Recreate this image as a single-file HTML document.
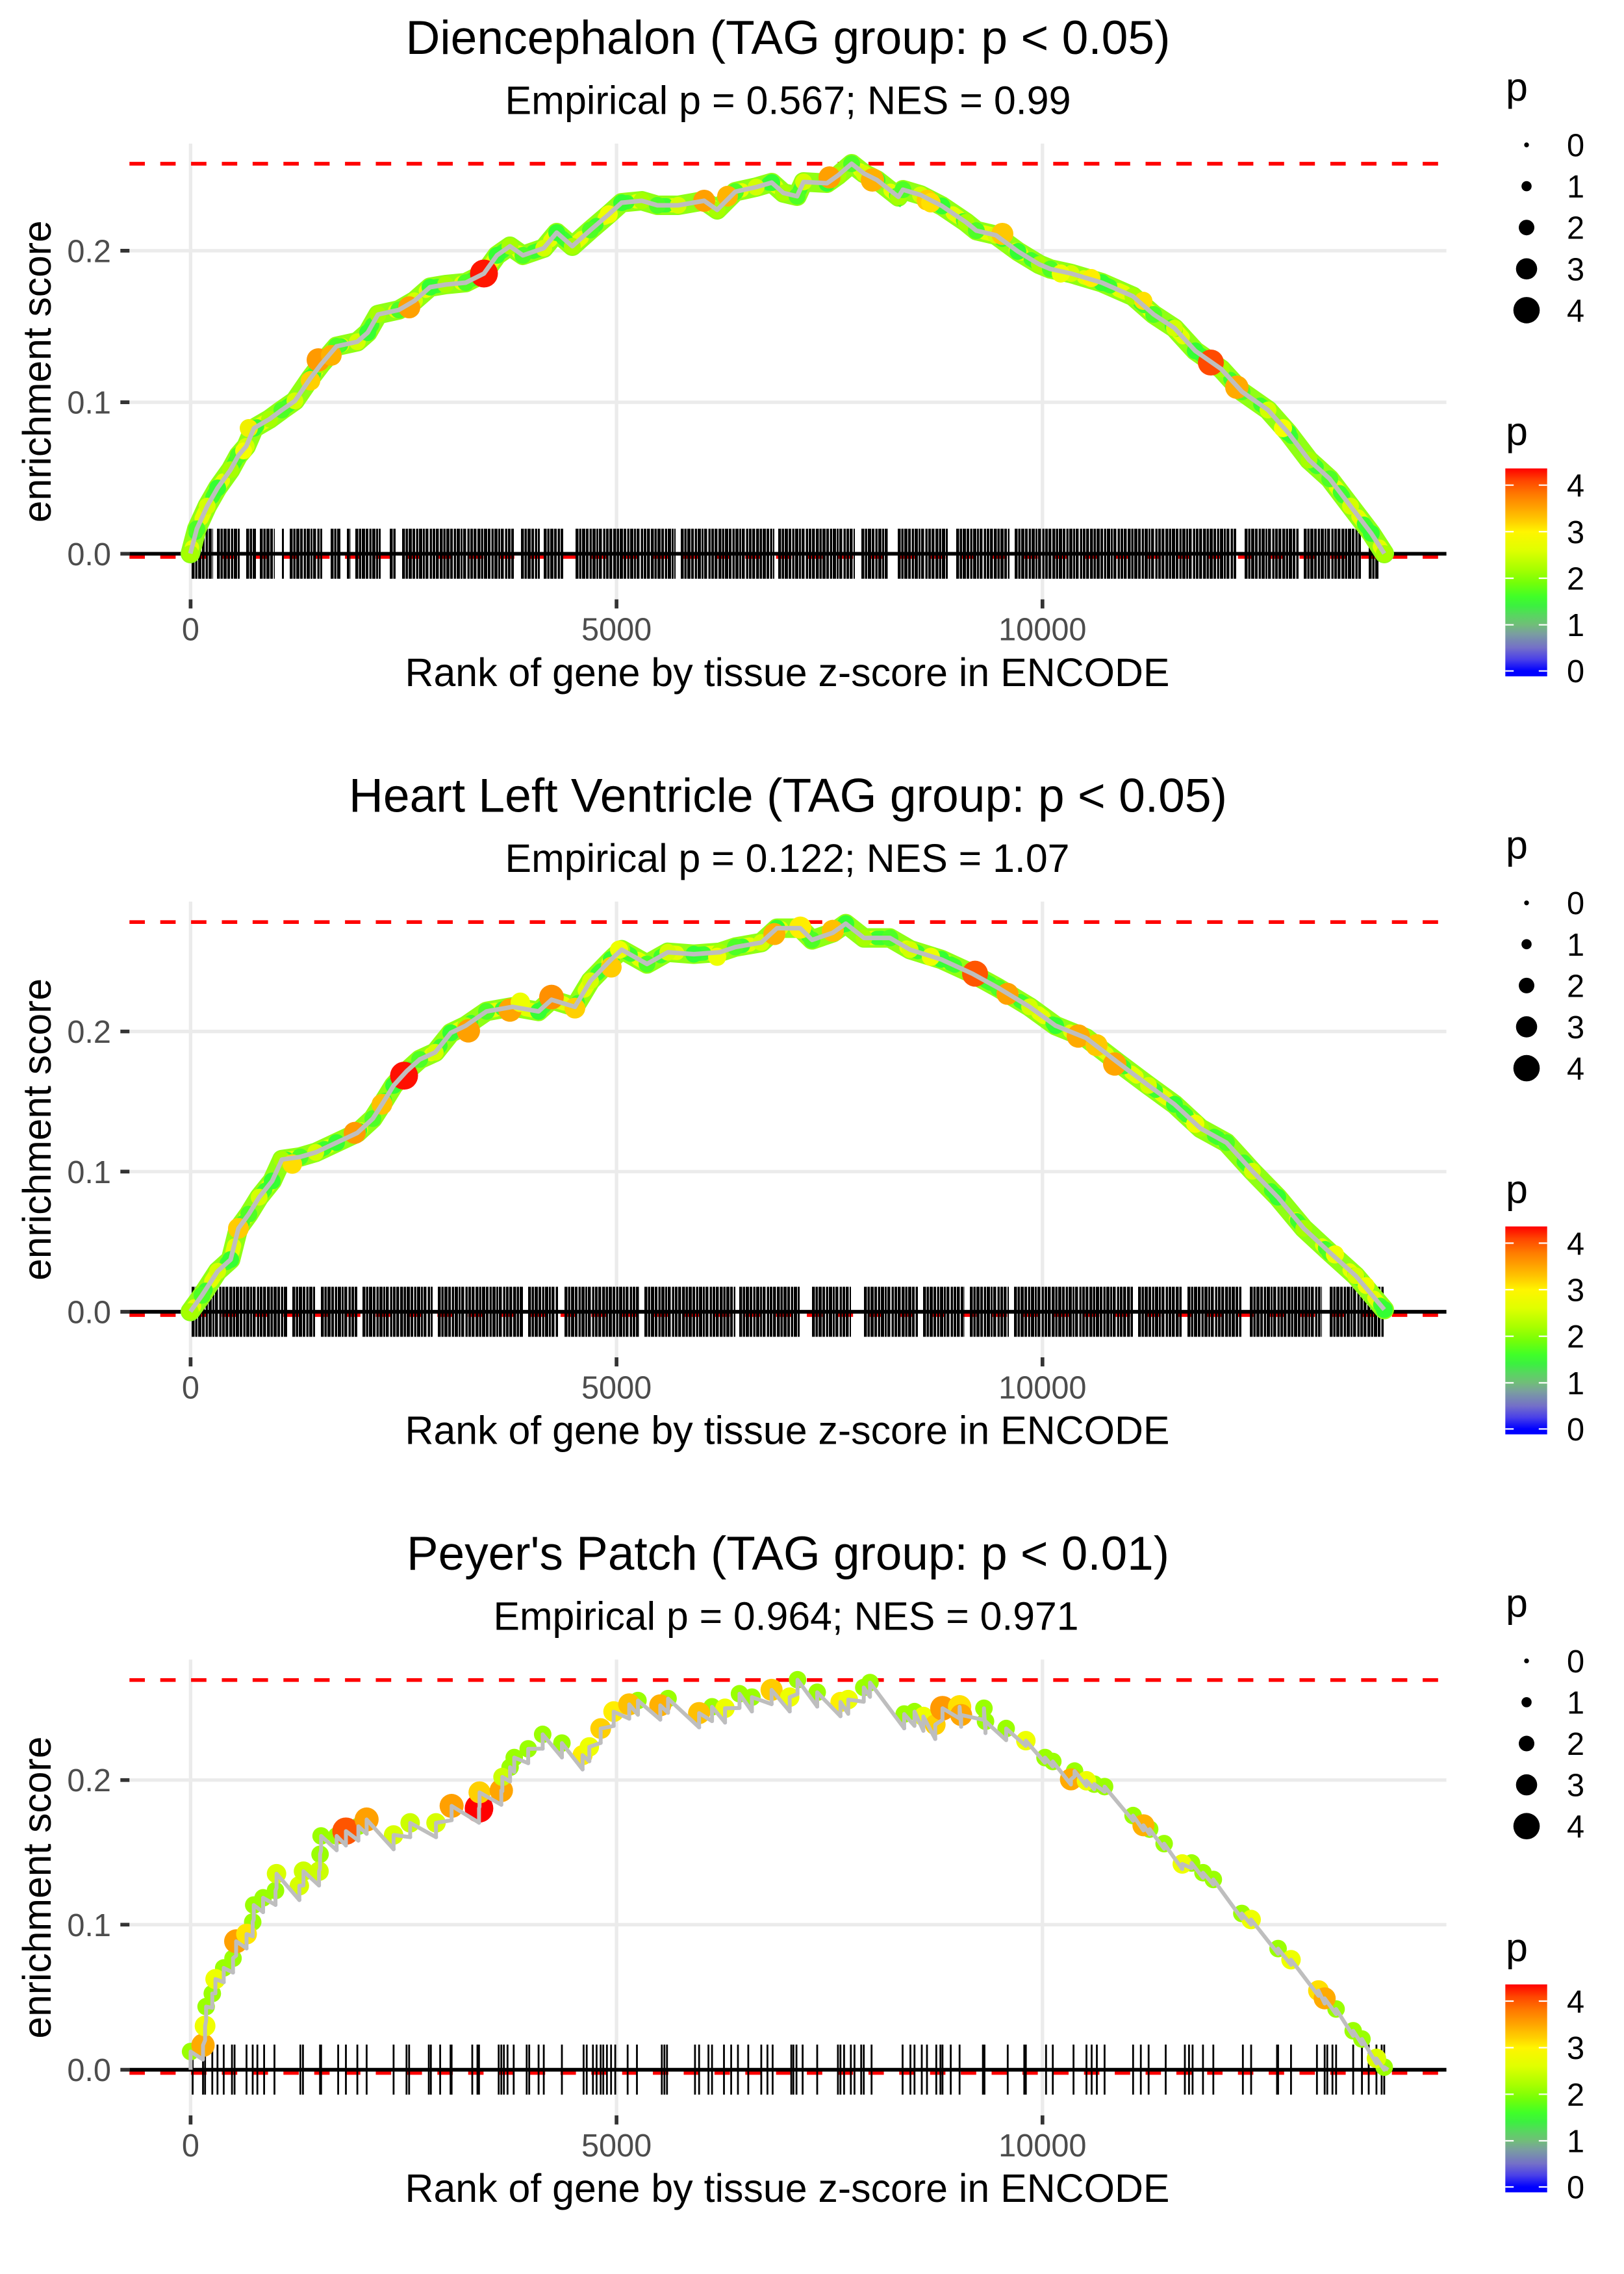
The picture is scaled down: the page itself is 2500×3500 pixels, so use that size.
<!DOCTYPE html>
<html><head><meta charset="utf-8"><style>html,body{margin:0;padding:0;background:#fff}svg{display:block}</style></head>
<body>
<svg xmlns="http://www.w3.org/2000/svg" width="2500" height="3500" viewBox="0 0 2500 3500" font-family="'Liberation Sans', Arial, Helvetica, sans-serif">
<defs>
<linearGradient id="cb" x1="0" y1="0" x2="0" y2="1">
<stop offset="0" stop-color="#FF0000"/>
<stop offset="0.058" stop-color="#FF4500"/>
<stop offset="0.125" stop-color="#FF7A00"/>
<stop offset="0.192" stop-color="#FFA500"/>
<stop offset="0.259" stop-color="#FFD200"/>
<stop offset="0.304" stop-color="#FFF500"/>
<stop offset="0.393" stop-color="#E0FF00"/>
<stop offset="0.483" stop-color="#A8FF00"/>
<stop offset="0.55" stop-color="#74FF08"/>
<stop offset="0.617" stop-color="#40FF28"/>
<stop offset="0.661" stop-color="#3CF040"/>
<stop offset="0.706" stop-color="#58D660"/>
<stop offset="0.751" stop-color="#70BE78"/>
<stop offset="0.795" stop-color="#7A9EA0"/>
<stop offset="0.862" stop-color="#7470C8"/>
<stop offset="0.918" stop-color="#4A40E8"/>
<stop offset="0.974" stop-color="#0000FF"/>
<stop offset="1" stop-color="#0000FF"/>
</linearGradient>
</defs>
<rect x="0" y="0" width="2500" height="3500" fill="#fff"/>

<!-- ================= PANEL 1 ================= -->
<g>
<path d="M293.4 221V922.5M949.1 221V922.5M1604.8 221V922.5M199.3 852.3H2226.6M199.3 619.1H2226.6M199.3 385.9H2226.6" stroke="#EBEBEB" stroke-width="5.3" fill="none"/>
<path d="M199.3 252H2226.6M199.3 857.2H2226.6" stroke="#FF0000" stroke-width="5.7" stroke-dasharray="23.7 23.7" fill="none"/>
<path d="M295 852.3H328M334 852.3H370M379 852.3H394M400 852.3H423M434 852.3H437M446 852.3H496M509 852.3H525M534 852.3H540M547 852.3H586M600 852.3H609M619 852.3H791M802 852.3H831M837 852.3H867M886 852.3H1040M1048 852.3H1192M1198 852.3H1316M1326 852.3H1368M1382 852.3H1459M1472 852.3H1554M1562 852.3H1904M1916 852.3H1999M2007 852.3H2095M2107 852.3H2123" stroke="#000" stroke-width="77" stroke-dasharray="4.5 1 3.5 1 5 1 4 1.5 3.5 1 5 1 3 1 4.5 2 3.5 1 4 1 4.5 1.5" fill="none"/>
<path d="M199.3 852.3H2226.6" stroke="#000" stroke-width="5.7"/>
<polyline points="293,852 303,814 319,779 335,751 355,723 367,701 379,687 391,659 415,645 434,631 454,617 478,582 494,561 518,533 550,526 566,512 582,484 614,477 638,463 662,442 686,438 717,435 745,421 765,393 785,379 805,393 837,382 857,358 881,379 909,354 937,330 957,312 988,309 1012,316 1044,316 1084,309 1104,323 1132,295 1164,288 1188,281 1206,297 1227,302 1237,280 1273,282 1290,270 1311,252 1330,267 1350,277 1383,303 1390,292 1417,300 1450,317 1487,342 1503,355 1533,362 1567,387 1600,407 1617,414 1649,421 1696,435 1744,456 1776,484 1808,505 1840,540 1880,568 1912,603 1952,631 1983,666 2015,708 2047,737 2079,779 2111,821 2131,852" fill="none" stroke="#8FFF14" stroke-width="30" stroke-linejoin="round" stroke-linecap="round"/>
<polyline points="293,852 303,814 319,779 335,751 355,723 367,701 379,687 391,659 415,645 434,631 454,617 478,582 494,561 518,533 550,526 566,512 582,484 614,477 638,463 662,442 686,438 717,435 745,421 765,393 785,379 805,393 837,382 857,358 881,379 909,354 937,330 957,312 988,309 1012,316 1044,316 1084,309 1104,323 1132,295 1164,288 1188,281 1206,297 1227,302 1237,280 1273,282 1290,270 1311,252 1330,267 1350,277 1383,303 1390,292 1417,300 1450,317 1487,342 1503,355 1533,362 1567,387 1600,407 1617,414 1649,421 1696,435 1744,456 1776,484 1808,505 1840,540 1880,568 1912,603 1952,631 1983,666 2015,708 2047,737 2079,779 2111,821 2131,852" fill="none" stroke="#E4FF00" stroke-width="22" stroke-linecap="round" stroke-dasharray="10 47"/>
<polyline points="293,852 303,814 319,779 335,751 355,723 367,701 379,687 391,659 415,645 434,631 454,617 478,582 494,561 518,533 550,526 566,512 582,484 614,477 638,463 662,442 686,438 717,435 745,421 765,393 785,379 805,393 837,382 857,358 881,379 909,354 937,330 957,312 988,309 1012,316 1044,316 1084,309 1104,323 1132,295 1164,288 1188,281 1206,297 1227,302 1237,280 1273,282 1290,270 1311,252 1330,267 1350,277 1383,303 1390,292 1417,300 1450,317 1487,342 1503,355 1533,362 1567,387 1600,407 1617,414 1649,421 1696,435 1744,456 1776,484 1808,505 1840,540 1880,568 1912,603 1952,631 1983,666 2015,708 2047,737 2079,779 2111,821 2131,852" fill="none" stroke="#3DFF2E" stroke-width="22" stroke-linecap="round" stroke-dasharray="8 53" stroke-dashoffset="28"/>
<g fill="#A6FF00"><circle cx="293" cy="852" r="13"/><circle cx="355" cy="723" r="13"/><circle cx="415" cy="645" r="13"/><circle cx="494" cy="561" r="13"/><circle cx="582" cy="484" r="13"/><circle cx="686" cy="438" r="13"/><circle cx="785" cy="379" r="13"/><circle cx="881" cy="379" r="13"/><circle cx="988" cy="309" r="13"/><circle cx="1104" cy="323" r="13"/><circle cx="1206" cy="297" r="13"/><circle cx="1290" cy="270" r="13"/><circle cx="1383" cy="303" r="13"/><circle cx="1487" cy="342" r="13"/><circle cx="1600" cy="407" r="13"/><circle cx="1744" cy="456" r="13"/><circle cx="1880" cy="568" r="13"/><circle cx="2015" cy="708" r="13"/><circle cx="2131" cy="852" r="13"/></g>
<g fill="#4DFF26"><circle cx="303" cy="814" r="13"/><circle cx="367" cy="701" r="13"/><circle cx="434" cy="631" r="13"/><circle cx="518" cy="533" r="13"/><circle cx="614" cy="477" r="13"/><circle cx="717" cy="435" r="13"/><circle cx="805" cy="393" r="13"/><circle cx="909" cy="354" r="13"/><circle cx="1012" cy="316" r="13"/><circle cx="1132" cy="295" r="13"/><circle cx="1227" cy="302" r="13"/><circle cx="1311" cy="252" r="13"/><circle cx="1390" cy="292" r="13"/><circle cx="1503" cy="355" r="13"/><circle cx="1617" cy="414" r="13"/><circle cx="1776" cy="484" r="13"/><circle cx="1912" cy="603" r="13"/><circle cx="2047" cy="737" r="13"/></g>
<g fill="#D4FF00"><circle cx="319" cy="779" r="13"/><circle cx="379" cy="687" r="13"/><circle cx="454" cy="617" r="13"/><circle cx="550" cy="526" r="13"/><circle cx="638" cy="463" r="13"/><circle cx="837" cy="382" r="13"/><circle cx="937" cy="330" r="13"/><circle cx="1044" cy="316" r="13"/><circle cx="1164" cy="288" r="13"/><circle cx="1237" cy="280" r="13"/><circle cx="1330" cy="267" r="13"/><circle cx="1417" cy="300" r="13"/><circle cx="1533" cy="362" r="13"/><circle cx="1649" cy="421" r="13"/><circle cx="1808" cy="505" r="13"/><circle cx="1952" cy="631" r="13"/><circle cx="2079" cy="779" r="13"/></g>
<g fill="#33FF33"><circle cx="335" cy="751" r="13"/><circle cx="391" cy="659" r="13"/><circle cx="478" cy="582" r="13"/><circle cx="566" cy="512" r="13"/><circle cx="662" cy="442" r="13"/><circle cx="765" cy="393" r="13"/><circle cx="857" cy="358" r="13"/><circle cx="957" cy="312" r="13"/><circle cx="1188" cy="281" r="13"/><circle cx="1273" cy="282" r="13"/><circle cx="1350" cy="277" r="13"/><circle cx="1450" cy="317" r="13"/><circle cx="1567" cy="387" r="13"/><circle cx="1696" cy="435" r="13"/><circle cx="1840" cy="540" r="13"/><circle cx="1983" cy="666" r="13"/><circle cx="2111" cy="821" r="13"/></g>
<circle cx="490" cy="554" r="18" fill="#FF9A00"/><circle cx="510" cy="547" r="16" fill="#FFB000"/><circle cx="478" cy="586" r="15" fill="#FFD000"/><circle cx="383" cy="659" r="14" fill="#F0F000"/><circle cx="375" cy="694" r="13" fill="#F5FF00"/><circle cx="630" cy="473" r="17" fill="#FFA000"/><circle cx="745" cy="421" r="21.5" fill="#FF1500"/><circle cx="937" cy="330" r="14" fill="#EEFF00"/><circle cx="1084" cy="309" r="17" fill="#FFA000"/><circle cx="1120" cy="302" r="16" fill="#FFB400"/><circle cx="1277" cy="273" r="17" fill="#FFA000"/><circle cx="1343" cy="277" r="18" fill="#FFB000"/><circle cx="1427" cy="308" r="16" fill="#FFCC00"/><circle cx="1433" cy="312" r="15" fill="#FFE000"/><circle cx="1543" cy="360" r="17" fill="#FFC800"/><circle cx="1633" cy="421" r="14" fill="#EEFF00"/><circle cx="1680" cy="428" r="14" fill="#FFEE00"/><circle cx="1760" cy="463" r="14" fill="#FFE000"/><circle cx="1864" cy="558" r="20" fill="#FF4A00"/><circle cx="1904" cy="596" r="18" fill="#FFAA00"/><circle cx="1975" cy="659" r="14" fill="#F5FF00"/>
<polyline points="293,852 303,814 319,779 335,751 355,723 367,701 379,687 391,659 415,645 434,631 454,617 478,582 494,561 518,533 550,526 566,512 582,484 614,477 638,463 662,442 686,438 717,435 745,421 765,393 785,379 805,393 837,382 857,358 881,379 909,354 937,330 957,312 988,309 1012,316 1044,316 1084,309 1104,323 1132,295 1164,288 1188,281 1206,297 1227,302 1237,280 1273,282 1290,270 1311,252 1330,267 1350,277 1383,303 1390,292 1417,300 1450,317 1487,342 1503,355 1533,362 1567,387 1600,407 1617,414 1649,421 1696,435 1744,456 1776,484 1808,505 1840,540 1880,568 1912,603 1952,631 1983,666 2015,708 2047,737 2079,779 2111,821 2131,852" fill="none" stroke="#BEBEBE" stroke-width="7" stroke-linejoin="round"/>
<path d="M185.3 852.3H199.3M185.3 619.1H199.3M185.3 385.9H199.3M293.4 922.5V936.5M949.1 922.5V936.5M1604.8 922.5V936.5" stroke="#333" stroke-width="5.7"/>
<g font-size="48.7" fill="#4D4D4D"><text x="171" y="869.8" text-anchor="end">0.0</text><text x="171" y="636.6" text-anchor="end">0.1</text><text x="171" y="403.4" text-anchor="end">0.2</text><text x="293.4" y="985.6" text-anchor="middle">0</text><text x="949.1" y="985.6" text-anchor="middle">5000</text><text x="1604.8" y="985.6" text-anchor="middle">10000</text></g>
<text x="1213" y="82.8" font-size="73" text-anchor="middle" textLength="1177" lengthAdjust="spacingAndGlyphs">Diencephalon (TAG group: p &lt; 0.05)</text>
<text x="1213" y="175.4" font-size="61" text-anchor="middle" textLength="871" lengthAdjust="spacingAndGlyphs">Empirical p = 0.567; NES = 0.99</text>
<text x="1212" y="1055.8" font-size="61" text-anchor="middle" textLength="1177" lengthAdjust="spacingAndGlyphs">Rank of gene by tissue z-score in ENCODE</text>
<text transform="translate(78,571.75) rotate(-90)" font-size="61" text-anchor="middle" textLength="465" lengthAdjust="spacingAndGlyphs">enrichment score</text>
<text x="2318" y="155" font-size="61">p</text>
<circle cx="2350" cy="223" r="3.7"/><circle cx="2350" cy="286.6" r="7.8"/><circle cx="2350" cy="350.2" r="12"/><circle cx="2350" cy="413.8" r="16.3"/><circle cx="2350" cy="477.4" r="20.3"/>
<g font-size="48.7"><text x="2412" y="240.5">0</text><text x="2412" y="304.1">1</text><text x="2412" y="367.7">2</text><text x="2412" y="431.3">3</text><text x="2412" y="494.9">4</text></g>
<text x="2318" y="685" font-size="61">p</text>
<rect x="2317.3" y="721" width="64.4" height="320" fill="url(#cb)"/>
<path d="M2317.3 746.7h12.9M2368.8 746.7h12.9M2317.3 818.3h12.9M2368.8 818.3h12.9M2317.3 890h12.9M2368.8 890h12.9M2317.3 961.7h12.9M2368.8 961.7h12.9M2317.3 1032.7h12.9M2368.8 1032.7h12.9" stroke="#fff" stroke-width="2.2"/>
<g font-size="48.7"><text x="2412" y="764.2">4</text><text x="2412" y="835.8">3</text><text x="2412" y="907.5">2</text><text x="2412" y="979.2">1</text><text x="2412" y="1050.2">0</text></g>
</g>

<!-- ================= PANEL 2 ================= -->
<g transform="translate(0,1166.67)">
<path d="M293.4 221V922.5M949.1 221V922.5M1604.8 221V922.5M199.3 852.3H2226.6M199.3 636.6H2226.6M199.3 420.9H2226.6" stroke="#EBEBEB" stroke-width="5.3" fill="none"/>
<path d="M199.3 252.5H2226.6M199.3 857.4H2226.6" stroke="#FF0000" stroke-width="5.7" stroke-dasharray="23.7 23.7" fill="none"/>
<path d="M295 852.3H442M450 852.3H486M494 852.3H550M558 852.3H666M674 852.3H805M813 852.3H859M869 852.3H984M992 852.3H1132M1138 852.3H1232M1250 852.3H1310M1330 852.3H1413M1421 852.3H1485M1493 852.3H1553M1561 852.3H1744M1752 852.3H1820M1828 852.3H1912M1924 852.3H2035M2047 852.3H2131" stroke="#000" stroke-width="77" stroke-dasharray="4.5 1 3.5 1 5 1 4 1.5 3.5 1 5 1 3 1 4.5 2 3.5 1 4 1 4.5 1.5" fill="none"/>
<path d="M199.3 852.3H2226.6" stroke="#000" stroke-width="5.7"/>
<polyline points="293,852 311,827 335,790 355,772 367,724 383,702 399,676 419,651 434,618 462,614 486,607 518,592 550,577 574,555 590,530 606,504 626,482 646,464 670,453 694,423 717,412 749,390 789,383 829,390 849,372 885,383 909,343 941,310 957,295 996,317 1028,299 1068,302 1108,299 1132,291 1172,284 1196,262 1232,262 1250,280 1282,269 1302,255 1330,277 1370,277 1401,295 1449,310 1497,332 1537,354 1585,383 1625,412 1672,431 1720,468 1768,504 1808,533 1848,570 1888,592 1928,636 1967,676 2007,724 2047,761 2087,797 2131,849" fill="none" stroke="#8FFF14" stroke-width="30" stroke-linejoin="round" stroke-linecap="round"/>
<polyline points="293,852 311,827 335,790 355,772 367,724 383,702 399,676 419,651 434,618 462,614 486,607 518,592 550,577 574,555 590,530 606,504 626,482 646,464 670,453 694,423 717,412 749,390 789,383 829,390 849,372 885,383 909,343 941,310 957,295 996,317 1028,299 1068,302 1108,299 1132,291 1172,284 1196,262 1232,262 1250,280 1282,269 1302,255 1330,277 1370,277 1401,295 1449,310 1497,332 1537,354 1585,383 1625,412 1672,431 1720,468 1768,504 1808,533 1848,570 1888,592 1928,636 1967,676 2007,724 2047,761 2087,797 2131,849" fill="none" stroke="#E4FF00" stroke-width="22" stroke-linecap="round" stroke-dasharray="10 47"/>
<polyline points="293,852 311,827 335,790 355,772 367,724 383,702 399,676 419,651 434,618 462,614 486,607 518,592 550,577 574,555 590,530 606,504 626,482 646,464 670,453 694,423 717,412 749,390 789,383 829,390 849,372 885,383 909,343 941,310 957,295 996,317 1028,299 1068,302 1108,299 1132,291 1172,284 1196,262 1232,262 1250,280 1282,269 1302,255 1330,277 1370,277 1401,295 1449,310 1497,332 1537,354 1585,383 1625,412 1672,431 1720,468 1768,504 1808,533 1848,570 1888,592 1928,636 1967,676 2007,724 2047,761 2087,797 2131,849" fill="none" stroke="#3DFF2E" stroke-width="22" stroke-linecap="round" stroke-dasharray="8 53" stroke-dashoffset="28"/>
<g fill="#A6FF00"><circle cx="293" cy="852" r="13"/><circle cx="367" cy="724" r="13"/><circle cx="434" cy="618" r="13"/><circle cx="550" cy="577" r="13"/><circle cx="626" cy="482" r="13"/><circle cx="717" cy="412" r="13"/><circle cx="849" cy="372" r="13"/><circle cx="957" cy="295" r="13"/><circle cx="1108" cy="299" r="13"/><circle cx="1232" cy="262" r="13"/><circle cx="1330" cy="277" r="13"/><circle cx="1497" cy="332" r="13"/><circle cx="1672" cy="431" r="13"/><circle cx="1848" cy="570" r="13"/><circle cx="2007" cy="724" r="13"/></g>
<g fill="#4DFF26"><circle cx="311" cy="827" r="13"/><circle cx="383" cy="702" r="13"/><circle cx="462" cy="614" r="13"/><circle cx="574" cy="555" r="13"/><circle cx="646" cy="464" r="13"/><circle cx="749" cy="390" r="13"/><circle cx="885" cy="383" r="13"/><circle cx="996" cy="317" r="13"/><circle cx="1132" cy="291" r="13"/><circle cx="1250" cy="280" r="13"/><circle cx="1370" cy="277" r="13"/><circle cx="1537" cy="354" r="13"/><circle cx="1720" cy="468" r="13"/><circle cx="1888" cy="592" r="13"/><circle cx="2047" cy="761" r="13"/></g>
<g fill="#D4FF00"><circle cx="335" cy="790" r="13"/><circle cx="399" cy="676" r="13"/><circle cx="486" cy="607" r="13"/><circle cx="590" cy="530" r="13"/><circle cx="670" cy="453" r="13"/><circle cx="789" cy="383" r="13"/><circle cx="909" cy="343" r="13"/><circle cx="1028" cy="299" r="13"/><circle cx="1172" cy="284" r="13"/><circle cx="1282" cy="269" r="13"/><circle cx="1401" cy="295" r="13"/><circle cx="1585" cy="383" r="13"/><circle cx="1768" cy="504" r="13"/><circle cx="1928" cy="636" r="13"/><circle cx="2087" cy="797" r="13"/></g>
<g fill="#33FF33"><circle cx="355" cy="772" r="13"/><circle cx="419" cy="651" r="13"/><circle cx="518" cy="592" r="13"/><circle cx="606" cy="504" r="13"/><circle cx="694" cy="423" r="13"/><circle cx="829" cy="390" r="13"/><circle cx="941" cy="310" r="13"/><circle cx="1068" cy="302" r="13"/><circle cx="1196" cy="262" r="13"/><circle cx="1302" cy="255" r="13"/><circle cx="1449" cy="310" r="13"/><circle cx="1625" cy="412" r="13"/><circle cx="1808" cy="533" r="13"/><circle cx="1967" cy="676" r="13"/><circle cx="2131" cy="849" r="13"/></g>
<circle cx="367" cy="724" r="16" fill="#FFCC00"/><circle cx="450" cy="625" r="15" fill="#FFDD00"/><circle cx="546" cy="577" r="17" fill="#FF9900"/><circle cx="588" cy="533" r="16" fill="#FFC000"/><circle cx="622" cy="489" r="21.5" fill="#FF1000"/><circle cx="721" cy="420" r="18" fill="#FFA000"/><circle cx="785" cy="388" r="18" fill="#FFA500"/><circle cx="801" cy="376" r="15" fill="#EEFF00"/><circle cx="849" cy="368" r="19" fill="#FF9000"/><circle cx="885" cy="385" r="16" fill="#FFD000"/><circle cx="941" cy="322" r="16" fill="#FFCC00"/><circle cx="953" cy="295" r="14" fill="#EEFF00"/><circle cx="1104" cy="306" r="14" fill="#EEFF00"/><circle cx="1192" cy="271" r="17" fill="#FFB000"/><circle cx="1232" cy="261" r="17" fill="#FFEE00"/><circle cx="1282" cy="266" r="17" fill="#FFC000"/><circle cx="1433" cy="306" r="14" fill="#EEFF00"/><circle cx="1501" cy="332" r="20" fill="#FF5500"/><circle cx="1551" cy="363" r="17" fill="#FFA000"/><circle cx="1660" cy="428" r="18" fill="#FFAA00"/><circle cx="1688" cy="442" r="17" fill="#FFC800"/><circle cx="1716" cy="471" r="18" fill="#FFA500"/><circle cx="1840" cy="563" r="14" fill="#EEFF00"/><circle cx="2055" cy="764" r="14" fill="#EEFF00"/><circle cx="2103" cy="812" r="13" fill="#EEFF00"/>
<polyline points="293,852 311,827 335,790 355,772 367,724 383,702 399,676 419,651 434,618 462,614 486,607 518,592 550,577 574,555 590,530 606,504 626,482 646,464 670,453 694,423 717,412 749,390 789,383 829,390 849,372 885,383 909,343 941,310 957,295 996,317 1028,299 1068,302 1108,299 1132,291 1172,284 1196,262 1232,262 1250,280 1282,269 1302,255 1330,277 1370,277 1401,295 1449,310 1497,332 1537,354 1585,383 1625,412 1672,431 1720,468 1768,504 1808,533 1848,570 1888,592 1928,636 1967,676 2007,724 2047,761 2087,797 2131,849" fill="none" stroke="#BEBEBE" stroke-width="7" stroke-linejoin="round"/>
<path d="M185.3 852.3H199.3M185.3 636.6H199.3M185.3 420.9H199.3M293.4 922.5V936.5M949.1 922.5V936.5M1604.8 922.5V936.5" stroke="#333" stroke-width="5.7"/>
<g font-size="48.7" fill="#4D4D4D"><text x="171" y="869.8" text-anchor="end">0.0</text><text x="171" y="654.1" text-anchor="end">0.1</text><text x="171" y="438.4" text-anchor="end">0.2</text><text x="293.4" y="985.6" text-anchor="middle">0</text><text x="949.1" y="985.6" text-anchor="middle">5000</text><text x="1604.8" y="985.6" text-anchor="middle">10000</text></g>
<text x="1213" y="82.8" font-size="73" text-anchor="middle" textLength="1352" lengthAdjust="spacingAndGlyphs">Heart Left Ventricle (TAG group: p &lt; 0.05)</text>
<text x="1212" y="175.4" font-size="61" text-anchor="middle" textLength="869" lengthAdjust="spacingAndGlyphs">Empirical p = 0.122; NES = 1.07</text>
<text x="1212" y="1055.8" font-size="61" text-anchor="middle" textLength="1177" lengthAdjust="spacingAndGlyphs">Rank of gene by tissue z-score in ENCODE</text>
<text transform="translate(78,571.75) rotate(-90)" font-size="61" text-anchor="middle" textLength="465" lengthAdjust="spacingAndGlyphs">enrichment score</text>
<text x="2318" y="155" font-size="61">p</text>
<circle cx="2350" cy="223" r="3.7"/><circle cx="2350" cy="286.6" r="7.8"/><circle cx="2350" cy="350.2" r="12"/><circle cx="2350" cy="413.8" r="16.3"/><circle cx="2350" cy="477.4" r="20.3"/>
<g font-size="48.7"><text x="2412" y="240.5">0</text><text x="2412" y="304.1">1</text><text x="2412" y="367.7">2</text><text x="2412" y="431.3">3</text><text x="2412" y="494.9">4</text></g>
<text x="2318" y="685" font-size="61">p</text>
<rect x="2317.3" y="721" width="64.4" height="320" fill="url(#cb)"/>
<path d="M2317.3 746.7h12.9M2368.8 746.7h12.9M2317.3 818.3h12.9M2368.8 818.3h12.9M2317.3 890h12.9M2368.8 890h12.9M2317.3 961.7h12.9M2368.8 961.7h12.9M2317.3 1032.7h12.9M2368.8 1032.7h12.9" stroke="#fff" stroke-width="2.2"/>
<g font-size="48.7"><text x="2412" y="764.2">4</text><text x="2412" y="835.8">3</text><text x="2412" y="907.5">2</text><text x="2412" y="979.2">1</text><text x="2412" y="1050.2">0</text></g>
</g>

<!-- ================= PANEL 3 ================= -->
<g transform="translate(0,2333.33)">
<path d="M293.4 221V922.5M949.1 221V922.5M1604.8 221V922.5M199.3 852.3H2226.6M199.3 629H2226.6M199.3 406.4H2226.6" stroke="#EBEBEB" stroke-width="5.3" fill="none"/>
<path d="M199.3 252.5H2226.6M199.3 857.2H2226.6" stroke="#FF0000" stroke-width="5.7" stroke-dasharray="23.7 23.7" fill="none"/>
<path d="M296.6 813.5V890.5M312.5 813.5V890.5M315.7 813.5V890.5M326.8 813.5V890.5M334.8 813.5V890.5M344.4 813.5V890.5M357.1 813.5V890.5M361.1 813.5V890.5M379.5 813.5V890.5M389 813.5V890.5M396.2 813.5V890.5M406.6 813.5V890.5M422.5 813.5V890.5M462.4 813.5V890.5M466.4 813.5V890.5M492.7 813.5V890.5M494.3 813.5V890.5M520.6 813.5V890.5M532.5 813.5V890.5M550.1 813.5V890.5M564.4 813.5V890.5M605.9 813.5V890.5M625.8 813.5V890.5M629.8 813.5V890.5M660.1 813.5V890.5M663.3 813.5V890.5M677.6 813.5V890.5M693.6 813.5V890.5M695.2 813.5V890.5M727 813.5V890.5M735 813.5V890.5M737.4 813.5V890.5M767.7 813.5V890.5M771.7 813.5V890.5M775.7 813.5V890.5M781.3 813.5V890.5M790.8 813.5V890.5M810.8 813.5V890.5M814.7 813.5V890.5M829.1 813.5V890.5M837.1 813.5V890.5M865 813.5V890.5M898.4 813.5V890.5M903.2 813.5V890.5M912.8 813.5V890.5M918.4 813.5V890.5M924.7 813.5V890.5M928.7 813.5V890.5M934.3 813.5V890.5M940.7 813.5V890.5M947.1 813.5V890.5M966.2 813.5V890.5M980.5 813.5V890.5M1018.8 813.5V890.5M1022.8 813.5V890.5M1026.8 813.5V890.5M1069.9 813.5V890.5M1076.2 813.5V890.5M1090.6 813.5V890.5M1096.1 813.5V890.5M1114.5 813.5V890.5M1125.6 813.5V890.5M1136 813.5V890.5M1151.9 813.5V890.5M1171.9 813.5V890.5M1181.4 813.5V890.5M1189.4 813.5V890.5M1218.1 813.5V890.5M1221.3 813.5V890.5M1226.1 813.5V890.5M1235.6 813.5V890.5M1258 813.5V890.5M1289.9 813.5V890.5M1293.8 813.5V890.5M1299.4 813.5V890.5M1309.8 813.5V890.5M1315.4 813.5V890.5M1325.7 813.5V890.5M1329.7 813.5V890.5M1341.7 813.5V890.5M1389.5 813.5V890.5M1401.5 813.5V890.5M1407.8 813.5V890.5M1419 813.5V890.5M1427 813.5V890.5M1441.3 813.5V890.5M1447.7 813.5V890.5M1450.9 813.5V890.5M1463.6 813.5V890.5M1477.2 813.5V890.5M1513.1 813.5V890.5M1515.5 813.5V890.5M1551.3 813.5V890.5M1576.8 813.5V890.5M1579.2 813.5V890.5M1610.3 813.5V890.5M1620.7 813.5V890.5M1652.6 813.5V890.5M1672.5 813.5V890.5M1680.5 813.5V890.5M1688.5 813.5V890.5M1700.4 813.5V890.5M1744.3 813.5V890.5M1756.2 813.5V890.5M1768.2 813.5V890.5M1794.5 813.5V890.5M1824 813.5V890.5M1830.4 813.5V890.5M1835.9 813.5V890.5M1851.9 813.5V890.5M1867.8 813.5V890.5M1913.3 813.5V890.5M1926 813.5V890.5M1965.9 813.5V890.5M1967.5 813.5V890.5M1987.4 813.5V890.5M2027.3 813.5V890.5M2039.2 813.5V890.5M2043.2 813.5V890.5M2051.2 813.5V890.5M2056.8 813.5V890.5M2083.1 813.5V890.5M2096.6 813.5V890.5M2107 813.5V890.5M2118.9 813.5V890.5M2126.9 813.5V890.5M2130.9 813.5V890.5" stroke="#000" stroke-width="2.8" fill="none"/>
<path d="M199.3 852.3H2226.6" stroke="#000" stroke-width="5.7"/>
<g fill="#9AFF00">
<circle cx="293.4" cy="824.3" r="13.5"/><circle cx="317.3" cy="755.1" r="13.5"/><circle cx="326.8" cy="735" r="13.5"/><circle cx="344.4" cy="695.6" r="13.5"/><circle cx="358.7" cy="680.7" r="13.5"/><circle cx="389" cy="624.9" r="13.5"/><circle cx="390.6" cy="598.8" r="13.5"/><circle cx="405" cy="587.7" r="13.5"/><circle cx="424.1" cy="576.5" r="13.5"/><circle cx="492.7" cy="520.7" r="13.5"/><circle cx="494.3" cy="492.4" r="13.5"/><circle cx="518.2" cy="492.4" r="13.5"/><circle cx="551.7" cy="477.5" r="13.5"/><circle cx="785.2" cy="386.7" r="13.5"/><circle cx="791.6" cy="371.8" r="13.5"/><circle cx="813.1" cy="358.4" r="13.5"/><circle cx="835.4" cy="336.1" r="13.5"/><circle cx="865" cy="349.5" r="13.5"/><circle cx="982.1" cy="284" r="13.5"/><circle cx="1028.4" cy="281" r="13.5"/><circle cx="1096.1" cy="293.7" r="13.5"/><circle cx="1138.4" cy="273.6" r="13.5"/><circle cx="1157.5" cy="278.8" r="13.5"/><circle cx="1227.7" cy="252" r="13.5"/><circle cx="1258" cy="271.3" r="13.5"/><circle cx="1329.7" cy="263.9" r="13.5"/><circle cx="1339.3" cy="256.4" r="13.5"/><circle cx="1391.9" cy="304.8" r="13.5"/><circle cx="1407.8" cy="301.1" r="13.5"/><circle cx="1514.7" cy="295.9" r="13.5"/><circle cx="1517.1" cy="316" r="13.5"/><circle cx="1548.9" cy="327.1" r="13.5"/><circle cx="1608.7" cy="371.8" r="13.5"/><circle cx="1620.7" cy="377.8" r="13.5"/><circle cx="1654.2" cy="392.6" r="13.5"/><circle cx="1684.5" cy="412.7" r="13.5"/><circle cx="1700.4" cy="416.5" r="13.5"/><circle cx="1744.3" cy="461.1" r="13.5"/><circle cx="1769.8" cy="482" r="13.5"/><circle cx="1792.1" cy="504.3" r="13.5"/><circle cx="1834.3" cy="534.1" r="13.5"/><circle cx="1851.9" cy="549" r="13.5"/><circle cx="1867.8" cy="559.4" r="13.5"/><circle cx="1911.7" cy="611.8" r="13.5"/><circle cx="1967.5" cy="665.8" r="13.5"/><circle cx="2056.8" cy="758.8" r="13.5"/><circle cx="2083.1" cy="792.3" r="13.5"/><circle cx="2096.6" cy="805" r="13.5"/><circle cx="2130.9" cy="848.3" r="13.5"/>
</g>
<circle cx="312.5" cy="814.6" r="18" fill="#FFAA00"/><circle cx="315.7" cy="784.9" r="16" fill="#F0FF00"/><circle cx="331.6" cy="712.7" r="15.5" fill="#EEFF00"/><circle cx="363.5" cy="654.6" r="18.5" fill="#FFA000"/><circle cx="379.5" cy="643.5" r="16" fill="#FFE600"/><circle cx="425.7" cy="550.5" r="15" fill="#D8FF00"/><circle cx="460.8" cy="569.1" r="15" fill="#D8FF00"/><circle cx="467.2" cy="546.7" r="15" fill="#CCFF00"/><circle cx="491.1" cy="546.7" r="15" fill="#CCFF00"/><circle cx="532.5" cy="485" r="21" fill="#FF5500"/><circle cx="564.4" cy="467.1" r="18.5" fill="#FFA000"/><circle cx="605.9" cy="490.9" r="15" fill="#D8FF00"/><circle cx="631.4" cy="472.3" r="15" fill="#CCFF00"/><circle cx="671.2" cy="472.3" r="15" fill="#D8FF00"/><circle cx="695.2" cy="446.2" r="18.5" fill="#FFA000"/><circle cx="737.4" cy="450" r="22" fill="#FF0000"/><circle cx="738.2" cy="425.4" r="17" fill="#FFD000"/><circle cx="771.7" cy="422.4" r="18" fill="#FFA500"/><circle cx="773.3" cy="401.6" r="14" fill="#CCFF00"/><circle cx="896.8" cy="368.1" r="15.5" fill="#FFEE00"/><circle cx="907.2" cy="355.4" r="15" fill="#EEFF00"/><circle cx="924.7" cy="327.2" r="16" fill="#FFD000"/><circle cx="944.7" cy="301.1" r="16" fill="#FFEE00"/><circle cx="968.6" cy="289.9" r="17" fill="#FFC000"/><circle cx="1016.4" cy="291.4" r="17" fill="#FFB000"/><circle cx="1076.2" cy="303.3" r="17" fill="#FFC000"/><circle cx="1116.1" cy="295.9" r="15" fill="#EEFF00"/><circle cx="1187.8" cy="267.6" r="17" fill="#FFCC00"/><circle cx="1215.7" cy="278.8" r="15" fill="#EEFF00"/><circle cx="1293.8" cy="286.2" r="15.5" fill="#FFEE00"/><circle cx="1305.8" cy="282.5" r="15" fill="#EEFF00"/><circle cx="1421.4" cy="308.5" r="15" fill="#EEFF00"/><circle cx="1439.7" cy="321.2" r="16" fill="#FFD000"/><circle cx="1450.9" cy="295.9" r="19" fill="#FF9900"/><circle cx="1477.2" cy="293.7" r="18" fill="#FFE000"/><circle cx="1479.6" cy="306.3" r="17" fill="#FFA500"/><circle cx="1579.2" cy="345.8" r="15" fill="#EEFF00"/><circle cx="1648.6" cy="405.3" r="17" fill="#FFAA00"/><circle cx="1672.5" cy="407.5" r="15" fill="#EEFF00"/><circle cx="1760.2" cy="476" r="17" fill="#FFB000"/><circle cx="1820" cy="535.6" r="15" fill="#EEFF00"/><circle cx="1926" cy="621.1" r="15" fill="#EEFF00"/><circle cx="1987.4" cy="682.9" r="15" fill="#EEFF00"/><circle cx="2029.7" cy="730.5" r="16" fill="#FFE000"/><circle cx="2039.2" cy="742.4" r="17" fill="#FFAA00"/><circle cx="2118.9" cy="834.8" r="15" fill="#DDFF00"/>
<g fill="#6F6FE8">
<circle cx="312.5" cy="836.6" r="3"/><circle cx="326.8" cy="757" r="3"/><circle cx="344.4" cy="717.6" r="3"/><circle cx="358.7" cy="702.7" r="3"/><circle cx="379.5" cy="665.5" r="3"/><circle cx="389" cy="646.9" r="3"/><circle cx="405" cy="609.7" r="3"/><circle cx="424.1" cy="598.5" r="3"/><circle cx="460.8" cy="591.1" r="3"/><circle cx="491.1" cy="568.7" r="3"/><circle cx="518.2" cy="514.4" r="3"/><circle cx="532.5" cy="507" r="3"/><circle cx="551.7" cy="499.5" r="3"/><circle cx="564.4" cy="489.1" r="3"/><circle cx="605.9" cy="512.9" r="3"/><circle cx="631.4" cy="494.3" r="3"/><circle cx="671.2" cy="494.3" r="3"/><circle cx="695.2" cy="468.2" r="3"/><circle cx="737.4" cy="472" r="3"/><circle cx="771.7" cy="444.4" r="3"/><circle cx="813.1" cy="380.4" r="3"/><circle cx="835.4" cy="358.1" r="3"/><circle cx="865" cy="371.5" r="3"/><circle cx="896.8" cy="390.1" r="3"/><circle cx="907.2" cy="377.4" r="3"/><circle cx="924.7" cy="349.2" r="3"/><circle cx="944.7" cy="323.1" r="3"/><circle cx="968.6" cy="311.9" r="3"/><circle cx="1016.4" cy="313.4" r="3"/><circle cx="1076.2" cy="325.3" r="3"/><circle cx="1096.1" cy="315.7" r="3"/><circle cx="1116.1" cy="317.9" r="3"/><circle cx="1157.5" cy="300.8" r="3"/><circle cx="1187.8" cy="289.6" r="3"/><circle cx="1215.7" cy="300.8" r="3"/><circle cx="1258" cy="293.3" r="3"/><circle cx="1293.8" cy="308.2" r="3"/><circle cx="1391.9" cy="326.8" r="3"/><circle cx="1421.4" cy="330.5" r="3"/><circle cx="1439.7" cy="343.2" r="3"/><circle cx="1479.6" cy="324.3" r="3"/><circle cx="1517.1" cy="334" r="3"/>
</g>
<polyline points="293.4,852.3 293.4,824.3 312.5,836.6 312.5,814.6 315.7,806.9 315.7,784.9 317.3,777.1 317.3,755.1 326.8,757 326.8,735 331.6,734.7 331.6,712.7 344.4,717.6 344.4,695.6 358.7,702.7 358.7,680.7 363.5,676.6 363.5,654.6 379.5,665.5 379.5,643.5 389,646.9 389,624.9 390.6,620.8 390.6,598.8 405,609.7 405,587.7 424.1,598.5 424.1,576.5 425.7,572.5 425.7,550.5 460.8,591.1 460.8,569.1 467.2,568.7 467.2,546.7 491.1,568.7 491.1,546.7 492.7,542.7 492.7,520.7 494.3,514.4 494.3,492.4 518.2,514.4 518.2,492.4 532.5,507 532.5,485 551.7,499.5 551.7,477.5 564.4,489.1 564.4,467.1 605.9,512.9 605.9,490.9 631.4,494.3 631.4,472.3 671.2,494.3 671.2,472.3 695.2,468.2 695.2,446.2 737.4,472 737.4,450 738.2,447.4 738.2,425.4 771.7,444.4 771.7,422.4 773.3,423.6 773.3,401.6 785.2,408.7 785.2,386.7 791.6,393.8 791.6,371.8 813.1,380.4 813.1,358.4 835.4,358.1 835.4,336.1 865,371.5 865,349.5 896.8,390.1 896.8,368.1 907.2,377.4 907.2,355.4 924.7,349.2 924.7,327.2 944.7,323.1 944.7,301.1 968.6,311.9 968.6,289.9 982.1,306 982.1,284 1016.4,313.4 1016.4,291.4 1028.4,303 1028.4,281 1076.2,325.3 1076.2,303.3 1096.1,315.7 1096.1,293.7 1116.1,317.9 1116.1,295.9 1138.4,295.6 1138.4,273.6 1157.5,300.8 1157.5,278.8 1187.8,289.6 1187.8,267.6 1215.7,300.8 1215.7,278.8 1227.7,274 1227.7,252 1258,293.3 1258,271.3 1293.8,308.2 1293.8,286.2 1305.8,304.5 1305.8,282.5 1329.7,285.9 1329.7,263.9 1339.3,278.4 1339.3,256.4 1391.9,326.8 1391.9,304.8 1407.8,323.1 1407.8,301.1 1421.4,330.5 1421.4,308.5 1439.7,343.2 1439.7,321.2 1450.9,313.9 1450.9,295.9 1477.2,311.7 1477.2,293.7 1479.6,324.3 1479.6,306.3 1514.7,313.9 1514.7,295.9 1517.1,334 1517.1,316 1548.9,345.1 1548.9,327.1 1579.2,353.8 1579.2,345.8 1608.7,379.8 1608.7,371.8 1620.7,385.8 1620.7,377.8 1648.6,413.3 1648.6,405.3 1654.2,400.6 1654.2,392.6 1672.5,415.5 1672.5,407.5 1684.5,420.7 1684.5,412.7 1700.4,424.5 1700.4,416.5 1744.3,469.1 1744.3,461.1 1760.2,484 1760.2,476 1769.8,490 1769.8,482 1792.1,512.3 1792.1,504.3 1820,543.6 1820,535.6 1834.3,542.1 1834.3,534.1 1851.9,557 1851.9,549 1867.8,567.4 1867.8,559.4 1911.7,619.8 1911.7,611.8 1926,629.1 1926,621.1 1967.5,673.8 1967.5,665.8 1987.4,690.9 1987.4,682.9 2029.7,738.5 2029.7,730.5 2039.2,750.4 2039.2,742.4 2056.8,766.8 2056.8,758.8 2083.1,800.3 2083.1,792.3 2096.6,813 2096.6,805 2118.9,842.8 2118.9,834.8 2130.9,852.3 2130.9,848.3 2137,852.3" fill="none" stroke="#BEBEBE" stroke-width="6" stroke-linejoin="round"/>
<path d="M185.3 852.3H199.3M185.3 629H199.3M185.3 406.4H199.3M293.4 922.5V936.5M949.1 922.5V936.5M1604.8 922.5V936.5" stroke="#333" stroke-width="5.7"/>
<g font-size="48.7" fill="#4D4D4D"><text x="171" y="869.8" text-anchor="end">0.0</text><text x="171" y="646.5" text-anchor="end">0.1</text><text x="171" y="423.9" text-anchor="end">0.2</text><text x="293.4" y="985.6" text-anchor="middle">0</text><text x="949.1" y="985.6" text-anchor="middle">5000</text><text x="1604.8" y="985.6" text-anchor="middle">10000</text></g>
<text x="1213" y="82.8" font-size="73" text-anchor="middle" textLength="1174" lengthAdjust="spacingAndGlyphs">Peyer's Patch (TAG group: p &lt; 0.01)</text>
<text x="1210" y="175.4" font-size="61" text-anchor="middle" textLength="901" lengthAdjust="spacingAndGlyphs">Empirical p = 0.964; NES = 0.971</text>
<text x="1212" y="1055.8" font-size="61" text-anchor="middle" textLength="1177" lengthAdjust="spacingAndGlyphs">Rank of gene by tissue z-score in ENCODE</text>
<text transform="translate(78,571.75) rotate(-90)" font-size="61" text-anchor="middle" textLength="465" lengthAdjust="spacingAndGlyphs">enrichment score</text>
<text x="2318" y="155" font-size="61">p</text>
<circle cx="2350" cy="223" r="3.7"/><circle cx="2350" cy="286.6" r="7.8"/><circle cx="2350" cy="350.2" r="12"/><circle cx="2350" cy="413.8" r="16.3"/><circle cx="2350" cy="477.4" r="20.3"/>
<g font-size="48.7"><text x="2412" y="240.5">0</text><text x="2412" y="304.1">1</text><text x="2412" y="367.7">2</text><text x="2412" y="431.3">3</text><text x="2412" y="494.9">4</text></g>
<text x="2318" y="685" font-size="61">p</text>
<rect x="2317.3" y="721" width="64.4" height="320" fill="url(#cb)"/>
<path d="M2317.3 746.7h12.9M2368.8 746.7h12.9M2317.3 818.3h12.9M2368.8 818.3h12.9M2317.3 890h12.9M2368.8 890h12.9M2317.3 961.7h12.9M2368.8 961.7h12.9M2317.3 1032.7h12.9M2368.8 1032.7h12.9" stroke="#fff" stroke-width="2.2"/>
<g font-size="48.7"><text x="2412" y="764.2">4</text><text x="2412" y="835.8">3</text><text x="2412" y="907.5">2</text><text x="2412" y="979.2">1</text><text x="2412" y="1050.2">0</text></g>
</g>
</svg>
</body></html>
